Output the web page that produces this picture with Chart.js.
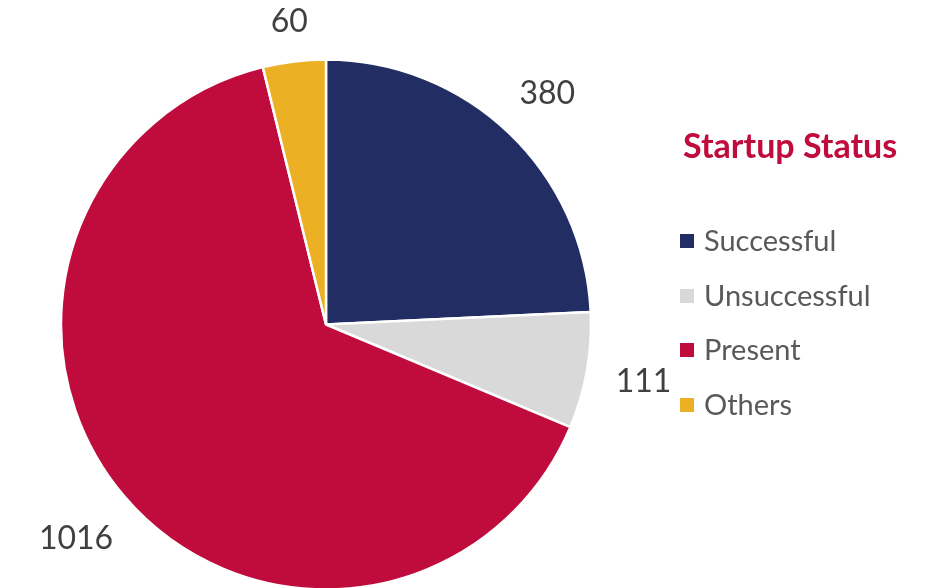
<!DOCTYPE html>
<html>
<head>
<meta charset="utf-8">
<script src="https://cdn.jsdelivr.net/npm/chart.js@4/dist/chart.umd.min.js"></script>
<style>
  html, body { margin: 0; padding: 0; background: #ffffff; }
  #wrap { position: relative; width: 928px; height: 588px; overflow: hidden; }
  #c { position: absolute; left: 0; top: 0; }
  #legend { position: absolute; left: 0; top: 0; width: 928px; height: 588px; pointer-events: none;
            font-family: Lato, "Liberation Sans", sans-serif; }
  .title { position: absolute; left: 683px; top: 123px; font-weight: bold; font-size: 34px; color: #c00c3c; white-space: nowrap; line-height: 44px; }
  .item { position: absolute; left: 680px; height: 40px; line-height: 40px; font-size: 29px; color: #595959; white-space: nowrap; }
  .item .sw { position: absolute; left: 0; top: 13px; width: 14px; height: 14px; }
  .item .tx { position: absolute; left: 24px; top: -1px; }
</style>
</head>
<body>
<div id="wrap">
  <canvas id="c" width="928" height="588"></canvas>
  <div id="legend"></div>
</div>
<script>
const categories = ["Successful", "Unsuccessful", "Present", "Others"];
const values = [380, 111, 1016, 60];
const colors = ["#212d63", "#d9d9d9", "#c00c3c", "#ecb025"];
const legendTitle = "Startup Status";

// HTML legend
const lg = document.getElementById('legend');
const t = document.createElement('div');
t.className = 'title';
t.textContent = legendTitle;
lg.appendChild(t);
categories.forEach((name, i) => {
  const it = document.createElement('div');
  it.className = 'item';
  it.style.top = (221 + i * 54.5) + 'px';
  const sw = document.createElement('span');
  sw.className = 'sw';
  sw.style.background = colors[i];
  const tx = document.createElement('span');
  tx.className = 'tx';
  tx.textContent = name;
  it.appendChild(sw);
  it.appendChild(tx);
  lg.appendChild(it);
});

const outsideLabels = {
  id: 'outsideLabels',
  afterDatasetsDraw(chart) {
    const ctx = chart.ctx;
    const meta = chart.getDatasetMeta(0);
    const ds = chart.data.datasets[0];
    ctx.save();
    ctx.font = '32px Lato, "Liberation Sans", sans-serif';
    ctx.fillStyle = '#404040';
    ctx.textAlign = 'center';
    ctx.textBaseline = 'alphabetic';
    const capH = 23;
    const gap = 28;
    meta.data.forEach((arc, i) => {
      const p = arc.getProps(['x', 'y', 'startAngle', 'endAngle', 'outerRadius'], true);
      const mid = (p.startAngle + p.endAngle) / 2;
      const txt = String(ds.data[i]);
      const w = ctx.measureText(txt).width;
      const c = Math.cos(mid), s = Math.sin(mid);
      const ext = Math.abs(c) * w / 2 + Math.abs(s) * capH / 2;
      const d = p.outerRadius + gap + ext;
      const lx = p.x + c * d;
      const ly = p.y + s * d;
      ctx.fillText(txt, lx, ly + capH / 2);
    });
    ctx.restore();
  }
};

new Chart(document.getElementById('c'), {
  type: 'pie',
  data: {
    labels: categories,
    datasets: [{
      data: values,
      backgroundColor: colors,
      borderColor: '#ffffff',
      borderWidth: 2.5
    }]
  },
  options: {
    responsive: false,
    animation: false,
    devicePixelRatio: 1,
    radius: 265,
    layout: { padding: { left: 62, right: 338, top: 61, bottom: 0 } },
    plugins: {
      legend: { display: false },
      tooltip: { enabled: false }
    }
  },
  plugins: [outsideLabels]
});
</script>
</body>
</html>
